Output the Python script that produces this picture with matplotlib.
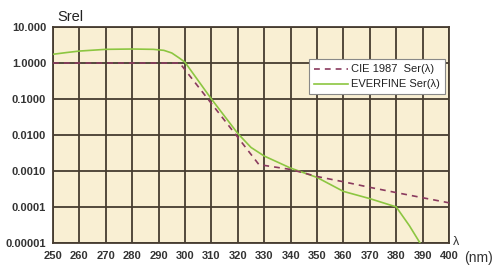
import matplotlib
matplotlib.use('Agg')
import matplotlib.pyplot as plt

# CIE 1987 erythema action spectrum
cie_wl = [250, 260, 270, 280, 290, 298, 310, 320, 328, 340, 350, 360, 370, 380, 390, 400]
cie_val = [1.0, 1.0, 1.0, 1.0, 1.0, 1.0, 0.075, 0.0086, 0.0015, 0.0011, 0.0007,
           0.0005, 0.00035, 0.00025, 0.00018, 0.00013]

# EVERFINE response
ev_wl = [250, 255, 260, 270, 280, 288, 292, 295, 298, 300, 310, 320, 325, 330, 340,
         350, 360, 370, 380, 385, 389]
ev_val = [1.75, 1.95, 2.15, 2.4, 2.45, 2.4, 2.25, 1.9, 1.35, 1.05, 0.1, 0.011, 0.0045,
          0.0026, 0.0012, 0.00066, 0.00027, 0.00017, 0.0001, 0.00003, 0.00001]

xticks = list(range(250, 401, 10))
yticks = [10, 1, 0.1, 0.01, 0.001, 0.0001, 0.00001]
ylabels = ['10.000', '1.0000', '0.1000', '0.0100', '0.0010', '0.0001', '0.00001']

plt.rcParams['font.family'] = ['Liberation Sans', 'DejaVu Sans']

fig = plt.figure(figsize=(5, 2.76), dpi=100)
ax = fig.add_axes([0.106, 0.12, 0.792, 0.782])
ax.set_facecolor('#f9efd3')

ax.set_yscale('log')
ax.set_xlim(250, 400)
ax.set_ylim(0.00001, 10)

ax.plot(cie_wl, cie_val, color='#8a3a5e', lw=1.2, ls=(0, (3.5, 3)),
        label='CIE 1987  Ser(λ)', zorder=4)
ax.plot(ev_wl, ev_val, color='#8cc641', lw=1.2, label='EVERFINE Ser(λ)', zorder=3)

ax.set_xticks(xticks)
ax.set_xticklabels([str(x) for x in xticks])
ax.set_yticks(yticks)
ax.set_yticklabels(ylabels)
ax.minorticks_off()
ax.grid(True, color='#463c30', lw=1.3)
ax.tick_params(length=0, labelsize=8, colors='#333333')
ax.tick_params(axis='x', pad=6)
ax.tick_params(axis='y', pad=5)
for lbl in ax.get_xticklabels() + ax.get_yticklabels():
    lbl.set_fontweight('bold')
for sp in ax.spines.values():
    sp.set_color('#463c30')
    sp.set_linewidth(1.3)

fig.text(0.114, 1 - 17 / 276, 'Srel', fontsize=10.5, color='#222222', ha='left', va='center')
fig.text(0.905, 1 - 242 / 276, 'λ', fontsize=9, color='#333333', ha='left', va='center')
fig.text(0.928, 1 - 258 / 276, '(nm)', fontsize=10, color='#333333', ha='left', va='center')

leg = ax.legend(loc='upper right', bbox_to_anchor=(0.99, 0.85), borderaxespad=0,
                fontsize=8, frameon=True, fancybox=False, handlelength=3.0,
                handletextpad=0.3, borderpad=0.45, labelspacing=0.45)
leg.get_frame().set_edgecolor('#888888')
leg.get_frame().set_facecolor('white')
leg.get_frame().set_alpha(1)
leg.get_frame().set_linewidth(0.8)
for t in leg.get_texts():
    t.set_color('#222222')

fig.savefig('out.png', dpi=100)
